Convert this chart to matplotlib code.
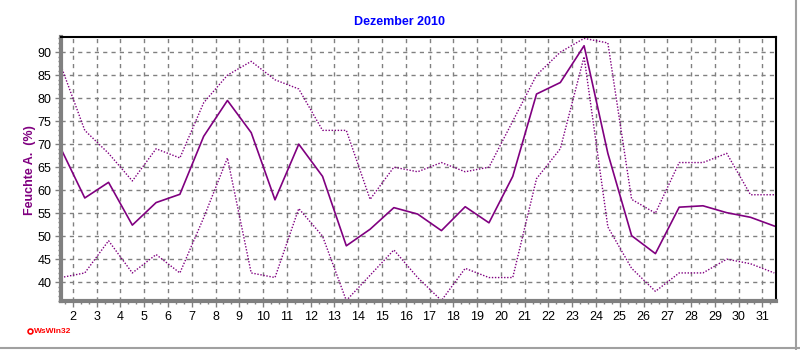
import numpy as np
import matplotlib
matplotlib.use("Agg")
import matplotlib.pyplot as plt
from matplotlib.ticker import MultipleLocator
from matplotlib.lines import Line2D

matplotlib.rcParams['font.family'] = ['Liberation Sans', 'DejaVu Sans']

# Feuchte A. Dezember 2010, Tageswerte (Mittel / Max / Min)
days = list(range(1, 32))
hum_mean = [69.0, 58.3, 61.7, 52.4, 57.3, 59.1, 71.7, 79.5, 72.5, 57.9,
            70.0, 63.0, 47.9, 51.5, 56.2, 54.8, 51.2, 56.4, 52.9, 63.0,
            80.9, 83.4, 91.4, 68.0, 50.1, 46.2, 56.3, 56.6, 55.1, 54.1, 52.2]
hum_max = [87, 73, 68, 62, 69, 67, 79, 85, 88, 84,
           82, 73, 73, 58, 65, 64, 66, 64, 65, 75,
           85, 90, 93, 92, 58, 55, 66, 66, 68, 59, 59]
hum_min = [41, 42, 49, 42, 46, 42, 54, 67, 42, 41,
           56, 50, 36, 41.5, 47, 41, 36, 43, 41, 41,
           62.5, 69, 89, 52, 43, 38, 42, 42, 45, 44, 42]
xlabels = list(range(2, 32))

purple = "#800080"

fig = plt.figure(figsize=(8, 3.5), dpi=100)
ax = fig.add_axes([0.07625, 0.14, 0.8934, 0.7543])

x = np.array(days) + 0.5  # Werte in Tagesmitte
ax.plot(x, hum_max, color=purple, lw=1.0, ls=(0, (1, 1.2)))
ax.plot(x, hum_min, color=purple, lw=1.0, ls=(0, (1, 1.2)))
ax.plot(x, hum_mean, color=purple, lw=1.2)

ax.set_xlim(1.5, 31.56)
ax.set_ylim(35.9, 93.3)

ax.set_xticks(xlabels)
ax.set_xticklabels([str(d) for d in xlabels])
ax.xaxis.set_minor_locator(MultipleLocator(1 / 3))
ax.set_yticks(range(40, 91, 5))
ax.yaxis.set_minor_locator(MultipleLocator(1))

ax.grid(True, which='major', color='#808080', lw=1.0, ls=(0, (3, 3)))
ax.set_axisbelow(True)

ax.tick_params(axis='both', which='major', labelsize=9, length=4, width=1,
               color='#808080', pad=3)
ax.tick_params(axis='both', which='minor', length=2, width=1, color='#808080')

for s in ['left', 'bottom']:
    ax.spines[s].set_color('#808080')
    ax.spines[s].set_linewidth(3)
for s in ['top', 'right']:
    ax.spines[s].set_color('black')
    ax.spines[s].set_linewidth(1.5)

fig.text(0.5, 0.937, "Dezember 2010", color='#0000ff', fontsize=9,
         fontweight='bold', ha='center', va='center')
fig.text(0.037, 0.515, "Feuchte A.  (%)", color=purple, fontsize=9,
         fontweight='bold', rotation=90, ha='center', va='center')

# WsWin32 Logo unten links
fig.add_artist(Line2D([0.037], [0.054], marker='o', ms=3.5, mfc='white',
                      mec='red', mew=1.2, transform=fig.transFigure))
fig.text(0.042, 0.054, "WsWin32", color='red', fontsize=6,
         fontweight='bold', ha='left', va='center')

# Fensterrahmen rechts und unten
fig.add_artist(Line2D([0.9945, 0.9945], [0.0, 1.0], color='#a0a0a0', lw=1.5,
                      transform=fig.transFigure))
fig.add_artist(Line2D([0.0, 1.0], [0.006, 0.006], color='#a0a0a0', lw=1.5,
                      transform=fig.transFigure))

fig.savefig("out.png", dpi=100)
